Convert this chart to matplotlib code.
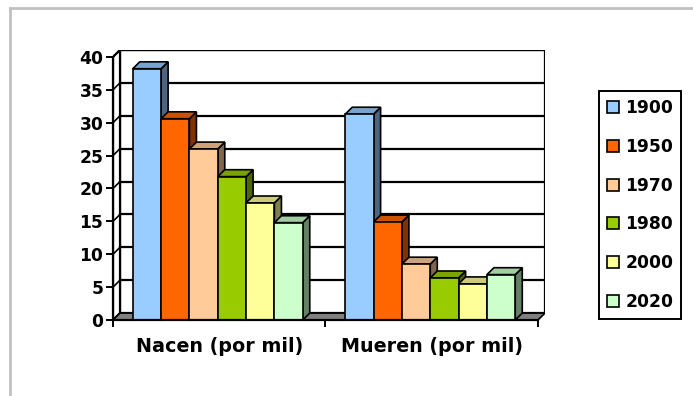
import matplotlib
matplotlib.use("Agg")
import matplotlib.pyplot as plt
from matplotlib.colors import to_rgb
from matplotlib.lines import Line2D
from matplotlib.patches import Patch, Polygon

plt.rcParams["font.family"] = ["DejaVu Sans"]
plt.rcParams["font.weight"] = "bold"

groups = ["Nacen (por mil)", "Mueren (por mil)"]
years = ["1900", "1950", "1970", "1980", "2000", "2020"]
nacen = [38.2, 30.6, 26.0, 21.8, 17.8, 14.8]
mueren = [31.3, 14.9, 8.5, 6.4, 5.5, 6.9]
colors = ["#99CCFF", "#FF6600", "#FFCC99", "#99CC00", "#FFFF99", "#CCFFCC"]
yticks = list(range(0, 41, 5))

FS = 12.3


def shade(color, k):
    return tuple(c * k for c in to_rgb(color))


def main() -> None:
    W, H = 693, 396
    fig = plt.figure(figsize=(W / 100, H / 100), dpi=100)
    fig.patch.set_facecolor("white")

    # light gray outer frame (top and left edges only visible)
    fig.add_artist(Line2D([9.5 / W, 9.5 / W], [0, 1 - 7.5 / H], color="#C0C0C0", lw=2))
    fig.add_artist(Line2D([9.5 / W, 1], [1 - 7.5 / H, 1 - 7.5 / H], color="#C0C0C0", lw=2))

    ax = fig.add_axes([113 / W, 76 / H, 432 / W, 270 / H])
    dx, dy = 0.033, 1.05
    ymax = yticks[-1]
    ax.set_xlim(0, len(groups) + dx)
    ax.set_ylim(0, ymax + dy)

    # back wall and side wall
    ax.add_patch(Polygon([(dx, dy), (len(groups) + dx, dy), (len(groups) + dx, ymax + dy), (dx, ymax + dy)],
                         closed=True, facecolor="white", edgecolor="black", lw=1.6, zorder=1))
    ax.add_patch(Polygon([(0, 0), (dx, dy), (dx, ymax + dy), (0, ymax)],
                         closed=True, facecolor="white", edgecolor="black", lw=1.6, zorder=1))
    for y in yticks[1:]:
        ax.plot([dx, len(groups) + dx], [y + dy, y + dy], color="black", lw=1.6, zorder=1.5)
        ax.plot([0, dx], [y, y + dy], color="black", lw=1.2, zorder=1.5)

    # floor
    ax.add_patch(Polygon([(0, 0), (len(groups), 0), (len(groups) + dx, dy), (dx, dy)],
                         closed=True, facecolor="#808080", edgecolor="black", lw=1.2, zorder=2))

    # bars with 3D faces
    bw = 0.8 / len(years)
    start = 0.093
    for g, values in enumerate([nacen, mueren]):
        for i, (v, c) in enumerate(zip(values, colors)):
            x0 = g + start + i * bw
            z = 3 + i * 0.1
            ax.add_patch(Polygon([(x0 + bw, 0), (x0 + bw + dx, dy), (x0 + bw + dx, v + dy), (x0 + bw, v)],
                                 closed=True, facecolor=shade(c, 0.5), edgecolor="black", lw=1.2, zorder=z))
            ax.add_patch(Polygon([(x0, v), (x0 + bw, v), (x0 + bw + dx, v + dy), (x0 + dx, v + dy)],
                                 closed=True, facecolor=shade(c, 0.8), edgecolor="black", lw=1.2, zorder=z))
            ax.bar(x0, v, width=bw, align="edge", color=c, edgecolor="black", lw=1.2, zorder=z + 0.05)

    for side in ["top", "right"]:
        ax.spines[side].set_visible(False)
    ax.spines["left"].set_bounds(0, ymax)
    ax.spines["bottom"].set_bounds(0, len(groups))
    for side in ["left", "bottom"]:
        ax.spines[side].set_linewidth(1.6)
        ax.spines[side].set_zorder(6)

    ax.set_yticks(yticks)
    ax.set_yticklabels([str(t) for t in yticks], fontsize=FS, fontweight="bold")
    ax.tick_params(axis="y", direction="out", length=5, width=1.4, pad=2)
    ax.set_xticks(range(len(groups) + 1))
    ax.set_xticklabels([])
    ax.set_xticks([g + 0.5 for g in range(len(groups))], minor=True)
    ax.set_xticklabels(groups, minor=True, fontsize=13.8, fontweight="bold")
    ax.tick_params(axis="x", which="major", direction="out", length=5, width=1.4)
    ax.tick_params(axis="x", which="minor", length=0, pad=12)

    handles = [Patch(facecolor=c, edgecolor="black", lw=1.2) for c in colors]
    fig.legend(handles, years, loc="center", bbox_to_anchor=(640 / W, 1 - 205 / H),
               prop={"size": FS, "weight": "bold"}, frameon=True, fancybox=False,
               edgecolor="black", handlelength=0.7, handleheight=0.7, handletextpad=0.4,
               labelspacing=1.22, borderpad=0.45, borderaxespad=0, framealpha=1)
    fig.legends[0].get_frame().set_linewidth(1.4)

    fig.savefig("out.png", dpi=100)


if __name__ == "__main__":
    main()
